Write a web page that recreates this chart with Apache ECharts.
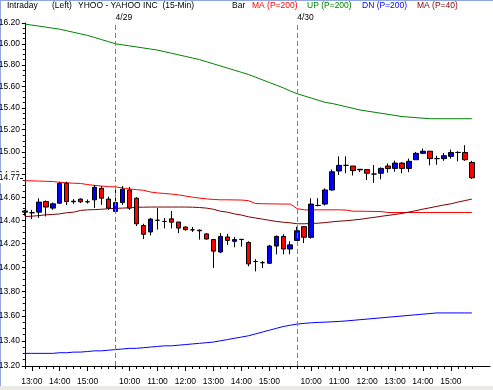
<!DOCTYPE html>
<html><head><meta charset="utf-8">
<script src="https://cdn.jsdelivr.net/npm/echarts@6/dist/echarts.min.js"></script>
<style>html,body{margin:0;padding:0;background:#fff}#c{width:493px;height:390px}</style>
</head><body><div id="c"></div>
<script>
// ---- data ----
const dayLabels = ['4/28', '4/29', '4/30'];
const dayFirstBar = ['12:45', '9:30', '9:30'];
const dayBarCount = [13, 26, 26];

const openP  = [14.48,14.465,14.47,14.562,14.505,14.548,14.72,14.565,14.583,14.56,14.577,14.677,14.583,
  14.476,14.553,14.663,14.591,14.355,14.30,14.40,14.39,14.412,14.385,14.342,14.318,14.315,14.283,14.235,14.13,14.257,14.22,14.235,14.21,14.05,14.04,14.035,14.18,14.262,14.155,
  14.228,14.345,14.254,14.528,14.54,14.663,14.83,14.88,14.874,14.84,14.843,14.803,14.81,14.874,14.853,14.90,14.853,14.93,14.987,15.006,14.94,14.94,14.96,14.995,14.995,14.906];
const closeP = [14.47,14.465,14.557,14.514,14.542,14.72,14.562,14.56,14.56,14.56,14.686,14.591,14.505,
  14.553,14.669,14.505,14.37,14.28,14.41,14.40,14.39,14.384,14.333,14.32,14.318,14.31,14.24,14.137,14.262,14.228,14.235,14.237,14.03,14.05,14.04,14.18,14.262,14.155,14.19,
  14.31,14.255,14.54,14.528,14.663,14.823,14.88,14.88,14.833,14.845,14.81,14.803,14.853,14.851,14.90,14.853,14.916,14.987,15.006,14.94,14.94,14.966,14.995,14.995,14.93,14.77];
const lowP   = [14.44,14.41,14.42,14.433,14.49,14.542,14.533,14.543,14.548,14.545,14.505,14.533,14.49,
  14.462,14.533,14.49,14.35,14.24,14.27,14.32,14.33,14.33,14.29,14.31,14.30,14.235,14.235,13.995,14.12,14.19,14.17,14.175,14.01,13.967,13.995,14.03,14.11,14.11,14.11,
  14.228,14.205,14.243,14.52,14.528,14.657,14.795,14.81,14.79,14.82,14.75,14.725,14.757,14.815,14.823,14.81,14.82,14.93,14.98,14.88,14.885,14.92,14.94,14.915,14.92,14.76];
const highP  = [14.49,14.49,14.59,14.571,14.553,14.735,14.735,14.583,14.59,14.58,14.706,14.697,14.605,
  14.69,14.697,14.69,14.60,14.37,14.42,14.505,14.42,14.48,14.385,14.345,14.343,14.32,14.29,14.24,14.29,14.283,14.257,14.24,14.22,14.07,14.055,14.19,14.27,14.28,14.22,
  14.345,14.35,14.591,14.591,14.677,14.843,14.96,14.96,14.874,14.845,14.843,14.883,14.862,14.897,14.922,14.91,14.94,15.0,15.03,15.006,14.966,14.99,15.02,15.006,15.06,14.92];

const ma200 = [14.745,14.743,14.741,14.739,14.737,14.73,14.726,14.722,14.72,14.71,14.703,14.697,14.692,
  14.69,14.68,14.672,14.666,14.66,14.645,14.637,14.632,14.627,14.62,14.61,14.60,14.592,14.585,14.58,14.577,14.577,14.576,14.575,14.57,14.545,14.543,14.542,14.541,14.54,14.54,
  14.50,14.49,14.49,14.49,14.49,14.49,14.49,14.488,14.478,14.478,14.477,14.476,14.475,14.467,14.467,14.467,14.467,14.467,14.467,14.467,14.467,14.467,14.467,14.467,14.467,14.467];
const up200 = [16.19,16.18,16.17,16.16,16.15,16.14,16.125,16.11,16.095,16.08,16.06,16.04,16.02,
  16.00,15.99,15.98,15.97,15.96,15.95,15.94,15.925,15.91,15.895,15.88,15.865,15.85,15.83,15.81,15.79,15.77,15.75,15.73,15.71,15.685,15.66,15.635,15.61,15.585,15.555,
  15.53,15.51,15.49,15.47,15.45,15.44,15.425,15.41,15.395,15.38,15.37,15.36,15.35,15.34,15.33,15.32,15.315,15.31,15.305,15.30,15.30,15.30,15.30,15.30,15.30,15.30];
const dn200 = [13.30,13.30,13.30,13.30,13.30,13.305,13.305,13.31,13.31,13.315,13.32,13.32,13.325,
  13.33,13.335,13.34,13.34,13.345,13.35,13.355,13.36,13.36,13.365,13.37,13.375,13.38,13.385,13.39,13.40,13.41,13.42,13.43,13.44,13.455,13.47,13.485,13.50,13.515,13.525,
  13.535,13.54,13.545,13.548,13.55,13.553,13.556,13.56,13.565,13.57,13.575,13.58,13.585,13.59,13.595,13.60,13.605,13.61,13.615,13.62,13.625,13.625,13.625,13.625,13.625,13.625];
const ma40 = [14.432,14.435,14.44,14.447,14.45,14.455,14.465,14.47,14.485,14.49,14.492,14.495,14.50,
  14.503,14.505,14.508,14.512,14.513,14.514,14.514,14.514,14.514,14.514,14.514,14.513,14.51,14.505,14.495,14.478,14.47,14.455,14.445,14.43,14.42,14.41,14.40,14.39,14.383,14.378,
  14.37,14.37,14.372,14.375,14.38,14.387,14.392,14.396,14.402,14.408,14.417,14.425,14.434,14.442,14.45,14.459,14.471,14.483,14.496,14.508,14.52,14.532,14.542,14.557,14.57,14.583];

const yTickLabels = [13.20,13.40,13.60,13.80,14.00,14.20,14.40,14.60,14.80,15.00,15.20,15.40,15.60,15.80,16.00,16.20];
const yMinorStep = 0.05;

// ---- build time categories ----
const times = [], dayStartIdx = [];
dayFirstBar.forEach((t, d) => {
  let [h, m] = t.split(':').map(Number);
  dayStartIdx.push(times.length);
  for (let k = 0; k < dayBarCount[d]; k++) {
    times.push((h < 10 ? '0' : '') + h + ':' + (m < 10 ? '0' : '') + m);
    m += 15; if (m >= 60) { m -= 60; h += 1; }
  }
});
const N = times.length;
const allIdx = times.map((t, i) => i);
const hourIdx = allIdx.filter(i => times[i].endsWith(':00'));

const L = v => Math.log(v);
const candleData = allIdx.map(i => [i, L(openP[i]), L(closeP[i]), L(lowP[i]), L(highP[i])]);
const lineData = arr => arr.map((v, i) => [i, L(v)]);
const yMin = L(13.2), yMax = L(16.2);
const minorVals = [];
for (let v = 13.2; v <= 16.2001; v += yMinorStep) minorVals.push(L(+v.toFixed(2)));
const lastClose = closeP[N - 1];

const FONT = 'Liberation Sans, Arial, sans-serif';
const xMin = -0.26, xMax = 66.6;

const chart = echarts.init(document.getElementById('c'), null, {renderer: 'canvas'});
const titleItems = [
  ['Intraday', 7, '#000'], ['(Left)', 52, '#000'], ['YHOO - YAHOO INC  (15-Min)', 78, '#000'],
  ['Bar', 232, '#000'], ['MA (P=200)', 252, '#ff0000'], ['UP (P=200)', 307, '#008000'],
  ['DN (P=200)', 362, '#0000ff'], ['MA (P=40)', 417, '#800000']
];
chart.setOption({
  animation: false,
  backgroundColor: '#fff',
  title: titleItems.map(t => ({text: t[0], left: t[1], top: 1, padding: 0,
    textStyle: {fontFamily: FONT, fontSize: 8.5, fontWeight: 'normal', color: t[2]}})),
  grid: {left: 23, right: 3, top: 23, bottom: 24, containLabel: false, outerBoundsMode: 'none'},
  xAxis: [{
    type: 'value', min: xMin, max: xMax,
    axisLine: {show: true, lineStyle: {color: '#000', width: 1}},
    axisTick: {show: true, customValues: allIdx, length: 3, lineStyle: {color: '#000'}},
    axisLabel: {show: true, customValues: hourIdx, formatter: v => times[Math.round(v)],
      fontFamily: FONT, fontSize: 8.5, color: '#000', margin: 11},
    splitLine: {show: false}
  }, {
    type: 'value', min: xMin, max: xMax, position: 'bottom',
    axisLine: {show: false},
    axisTick: {show: true, customValues: hourIdx, length: 5, lineStyle: {color: '#000'}},
    axisLabel: {show: false}, splitLine: {show: false}
  }],
  yAxis: [{
    type: 'value', min: yMin, max: yMax,
    axisLine: {show: true, lineStyle: {color: '#000', width: 1}},
    axisTick: {show: true, customValues: yTickLabels.map(L), length: 3, lineStyle: {color: '#000'}},
    axisLabel: {show: true, customValues: yTickLabels.map(L), formatter: v => Math.exp(v).toFixed(2),
      fontFamily: FONT, fontSize: 8.5, color: '#000', margin: 3},
    splitLine: {show: false}
  }, {
    type: 'value', min: yMin, max: yMax, position: 'left',
    axisLine: {show: false},
    axisTick: {show: true, customValues: minorVals, length: 2, lineStyle: {color: '#000'}},
    axisLabel: {show: false}, splitLine: {show: false}
  }, {
    type: 'value', min: yMin, max: yMax, position: 'left', z: 5,
    axisLine: {show: false},
    axisTick: {show: true, customValues: [L(lastClose)], length: 3, lineStyle: {color: '#000'}},
    axisLabel: {show: true, customValues: [L(lastClose)], formatter: v => Math.exp(v).toFixed(2),
      fontFamily: FONT, fontSize: 8.5, color: '#000', margin: 3, backgroundColor: '#fff', padding: [1, 0, 1, 0]},
    splitLine: {show: false}
  }],
  series: [
    {type: 'line', name: 'UP (P=200)', data: lineData(up200), symbol: 'none', lineStyle: {color: '#008000', width: 1}, z: 2},
    {type: 'line', name: 'DN (P=200)', data: lineData(dn200), symbol: 'none', lineStyle: {color: '#0000ff', width: 1}, z: 2},
    {type: 'line', name: 'MA (P=200)', data: lineData(ma200), symbol: 'none', lineStyle: {color: '#ff0000', width: 1}, z: 2},
    {type: 'line', name: 'MA (P=40)', data: lineData(ma40), symbol: 'none', lineStyle: {color: '#800000', width: 1}, z: 2},
    {
      type: 'candlestick', name: 'YHOO', data: candleData, barWidth: 5, z: 3,
      itemStyle: {color: '#0000ff', color0: '#ff0000', borderColor: '#000', borderColor0: '#000', borderWidth: 1},
      markLine: {
        silent: true, symbol: 'none',
        lineStyle: {color: '#808080', type: [5, 3], width: 1},
        label: {show: true, position: 'end', formatter: '{b}', fontFamily: FONT, fontSize: 8.5, color: '#000', distance: 1, align: 'left'},
        data: dayStartIdx.slice(1).map(i => ({xAxis: i, name: dayLabels[dayStartIdx.indexOf(i)]}))
      }
    }
  ],
  graphic: [
    {type: 'rect', left: 0, top: 0, shape: {width: 1, height: 390}, style: {fill: '#8fa8e0'}},
    {type: 'rect', left: 0, top: 0, shape: {width: 493, height: 1}, style: {fill: '#8fa8e0'}},
    {type: 'rect', left: 0, top: 386, shape: {width: 493, height: 4}, style: {fill: '#ece9e4'}}
  ]
});
</script></body></html>
